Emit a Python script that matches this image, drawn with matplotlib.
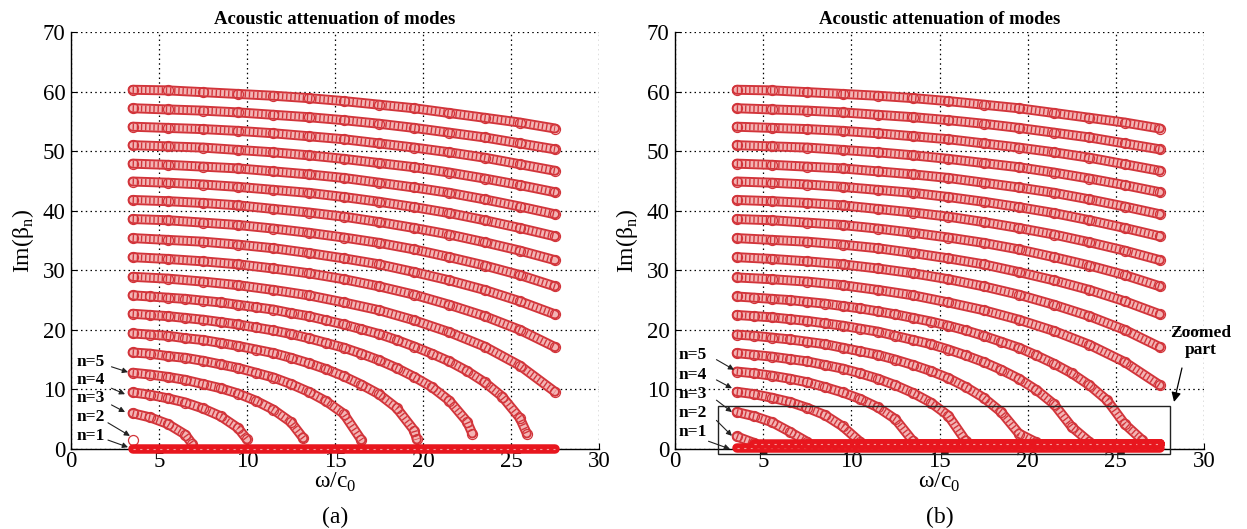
"""Acoustic attenuation of duct modes, panels (a) and (b)."""
import numpy as np
import matplotlib
matplotlib.use('Agg')
import matplotlib.pyplot as plt
from matplotlib.patches import Rectangle


plt.rcParams['font.family'] = ['Liberation Serif', 'DejaVu Serif']
plt.rcParams['mathtext.fontset'] = 'custom'
plt.rcParams['mathtext.rm'] = 'Liberation Serif'

# frequency grids (omega / c0) the values were read on
OMEGA_COARSE = [3.5, 5.5, 7.5, 9.5, 11.5, 13.5, 15.5, 17.5, 19.5, 21.5,
                23.5, 25.5, 27.5]
OMEGA_FINE = [3.5, 4.5, 5.5, 6.5, 7.5, 8.5, 9.5, 10.5, 11.5, 12.5, 13.5,
              14.5, 15.5, 16.5, 17.5, 18.5, 19.5, 20.5, 21.5, 22.5, 23.5,
              24.5, 25.5, 26.5, 27.5]

# high order modes, same in both panels (coarse grid)
IM_N20 = [60.3, 60.2, 59.9, 59.6, 59.3, 58.9, 58.4, 57.8, 57.2, 56.4, 55.6, 54.8, 53.8]
IM_N19 = [57.2, 57.0, 56.8, 56.5, 56.1, 55.7, 55.2, 54.6, 53.9, 53.1, 52.3, 51.3, 50.3]
IM_N18 = [54.1, 53.9, 53.7, 53.4, 53.0, 52.5, 52.0, 51.3, 50.6, 49.8, 48.9, 47.8, 46.7]
IM_N17 = [51.0, 50.8, 50.6, 50.2, 49.8, 49.3, 48.7, 48.0, 47.3, 46.4, 45.4, 44.3, 43.1]
IM_N16 = [47.9, 47.7, 47.4, 47.1, 46.6, 46.1, 45.5, 44.7, 43.9, 43.0, 41.9, 40.7, 39.4]
IM_N15 = [44.9, 44.7, 44.4, 44.0, 43.5, 43.0, 42.3, 41.5, 40.6, 39.6, 38.4, 37.1, 35.7]
IM_N14 = [41.8, 41.6, 41.3, 40.9, 40.3, 39.7, 39.0, 38.1, 37.1, 36.0, 34.7, 33.3, 31.7]
IM_N13 = [38.6, 38.4, 38.0, 37.6, 37.0, 36.3, 35.5, 34.6, 33.5, 32.2, 30.8, 29.2, 27.3]
IM_N12 = [35.4, 35.1, 34.8, 34.3, 33.7, 32.9, 32.0, 31.0, 29.7, 28.3, 26.7, 24.8, 22.6]
IM_N11 = [32.2, 31.9, 31.5, 31.0, 30.3, 29.5, 28.5, 27.3, 25.9, 24.2, 22.3, 20.0, 17.1]
HIGH_MODES = [IM_N11, IM_N12, IM_N13, IM_N14, IM_N15,
              IM_N16, IM_N17, IM_N18, IM_N19, IM_N20]

# panel (a): lossless, modes cut off sharply
A_N10 = [28.9, 28.6, 28.1, 27.5, 26.7, 25.8, 24.6, 23.3, 21.6, 19.6, 17.2, 14.0, 9.6]
A_N9 = [25.8, 25.6, 25.4, 25.2, 24.9, 24.6, 24.2, 23.8, 23.4, 22.8, 22.3, 21.6,
        20.9, 20.1, 19.3, 18.3, 17.2, 16.0, 14.7, 13.1, 11.2, 8.8, 5.2]
A_N8 = [22.7, 22.5, 22.3, 22.0, 21.7, 21.3, 20.9, 20.4, 19.9, 19.3, 18.6, 17.8,
        17.0, 16.0, 14.9, 13.6, 12.1, 10.4, 8.1, 4.6]
A_N7 = [19.4, 19.2, 19.0, 18.6, 18.3, 17.8, 17.3, 16.7, 16.1, 15.3, 14.4, 13.4,
        12.2, 10.8, 9.2, 6.9, 3.1]
A_N6 = [16.2, 16.0, 15.6, 15.3, 14.8, 14.2, 13.6, 12.8, 12.0, 10.9, 9.6, 8.0, 5.9]
A_N5 = [12.8, 12.5, 12.1, 11.6, 10.9, 10.2, 9.3, 8.1, 6.6, 4.5]
A_N4 = [9.5, 9.1, 8.5, 7.8, 6.8, 5.5, 3.5]
A_N3 = [6.0, 5.3, 4.2, 2.4]
A_N2 = [1.5]
A_LOW = [A_N2, A_N3, A_N4, A_N5, A_N6, A_N7, A_N8, A_N9]
A_END_X = [np.nan, 6.9, 10.0, 13.2, 16.5, 19.65, 22.8, 25.9]
A_END_Y = [np.nan, 0.8, 1.6, 1.8, 1.5, 1.6, 2.6, 2.6]
A_N1_X = [3.5, 27.5]
A_N1_Y = [0.0, 0.0]

# panel (b): modes level off near cut-off instead of dropping to zero
B_N10 = [28.8, 28.5, 28.1, 27.5, 26.7, 25.8, 24.6, 23.3, 21.7, 19.8, 17.5, 14.6, 10.7]
B_N9 = [25.6, 25.4, 25.2, 25.0, 24.7, 24.4, 24.0, 23.6, 23.1, 22.6, 22.0, 21.4,
        20.7, 19.9, 19.0, 18.0, 17.0, 15.7, 14.3, 12.7, 10.7, 8.2, 4.2, 1.5]
B_N8 = [22.5, 22.3, 22.1, 21.8, 21.5, 21.1, 20.7, 20.2, 19.7, 19.0, 18.3, 17.6,
        16.7, 15.7, 14.6, 13.3, 11.8, 9.9, 7.5, 3.7, 1.2]
B_N7 = [19.2, 19.0, 18.7, 18.4, 18.0, 17.6, 17.0, 16.4, 15.8, 15.0, 14.1, 13.1,
        11.9, 10.4, 8.6, 6.2, 2.6, 1.1]
B_N6 = [16.1, 15.8, 15.5, 15.1, 14.7, 14.1, 13.5, 12.7, 11.8, 10.7, 9.4, 7.8, 5.6, 1.3]
B_N5 = [13.0, 12.7, 12.3, 11.8, 11.2, 10.4, 9.5, 8.4, 7.0, 5.0, 1.3]
B_N4 = [9.6, 9.2, 8.6, 7.9, 6.9, 5.7, 3.8, 1.2]
B_N3 = [6.2, 5.5, 4.5, 2.9, 1.2]
B_N2 = [2.1, 1.0]
B_LOW = [B_N2, B_N3, B_N4, B_N5, B_N6, B_N7, B_N8, B_N9]
B_TAIL = 0.8
B_N1_X = [3.5, 27.5]
B_N1_Y = [0.1, 0.1]

MODE_LABELS = ['n=5', 'n=4', 'n=3', 'n=2', 'n=1']

EDGE = '#d2343a'
FILL = '#f3b4b4'
BAND = '#e8161e'
PX = 72 / 100  # points per pixel


def ribbon(ax, x, y, z=3):
    """Dense circle markers look like a hollow red tube."""
    if len(x) > 1:
        ax.plot(x, y, color=EDGE, lw=10 * PX, solid_capstyle='round', zorder=z)
        ax.plot(x, y, color=FILL, lw=6.2 * PX, solid_capstyle='round', zorder=z)
        ax.plot(x, y, color=EDGE, lw=6.2 * PX, dashes=(0.22, 0.45), zorder=z)
    ax.plot(x, y, 'o', mfc='none', mec=EDGE, ms=10 * PX, mew=0.9, zorder=z)


def band(ax, x, y, z=4):
    ax.plot(x, y, color=BAND, lw=9.5 * PX, solid_capstyle='round',
            clip_on=False, zorder=z)
    ax.plot(x, y, color='#f59a9a', lw=0.8, dashes=(2, 4), clip_on=False,
            zorder=z)


def style(ax, letter):
    ax.set_xlim(0, 30)
    ax.set_ylim(0, 70)
    ax.set_xticks(range(0, 31, 5))
    ax.set_yticks(range(0, 71, 10))
    ax.grid(True, color='k', lw=0.9, ls=(0, (1.2, 2.6)))
    ax.set_axisbelow(False)
    for side in ('top', 'right'):
        ax.spines[side].set_visible(False)
    for side in ('left', 'bottom'):
        ax.spines[side].set_linewidth(1.0)
    ax.tick_params(direction='in', length=4, labelsize=16.5)
    ax.tick_params(axis='x', pad=1.5)
    ax.tick_params(axis='y', pad=4)
    ax.set_title('Acoustic attenuation of modes', fontsize=13.5,
                 fontweight='bold', pad=6)
    ax.set_ylabel('Im(β$_\\mathregular{n}$)', fontsize=17)
    ax.yaxis.set_label_coords(-0.066, 0.5)
    ax.set_xlabel('ω/c$_\\mathregular{0}$', fontsize=17)
    ax.xaxis.set_label_coords(0.5, -0.052)
    ax.text(0.5, -0.164, letter, transform=ax.transAxes, fontsize=17,
            ha='center', va='center')


def labels(ax, text_x, text_y, tails, tips):
    for lab, ty, tail, tip in zip(MODE_LABELS, text_y, tails, tips):
        ax.text(text_x, ty, lab, fontsize=12.5, fontweight='bold',
                ha='left', va='center', zorder=6)
        ax.annotate('', xy=tip, xytext=tail, zorder=6,
                    arrowprops=dict(arrowstyle='-|>', color='#222222',
                                    lw=0.8, mutation_scale=8,
                                    shrinkA=0, shrinkB=0))


def panel_a(ax):
    for vals in HIGH_MODES + [A_N10]:
        ribbon(ax, OMEGA_COARSE, vals)
    for vals, ex, ey in zip(A_LOW, A_END_X, A_END_Y):
        x = list(OMEGA_FINE[:len(vals)])
        y = list(vals)
        if not np.isnan(ex):
            x.append(ex)
            y.append(ey)
        ribbon(ax, x, y)
    band(ax, A_N1_X, A_N1_Y)
    style(ax, '(a)')
    labels(ax, 0.3, [14.6, 11.6, 8.6, 5.4, 2.2],
           [(2.3, 13.8), (2.3, 10.2), (2.3, 7.4), (2.1, 4.4), (2.1, 1.5)],
           [(3.24, 12.9), (3.07, 9.2), (3.07, 6.2), (3.35, 2.2), (3.24, 0.3)])


def panel_b(ax):
    for vals in HIGH_MODES + [B_N10]:
        ribbon(ax, OMEGA_COARSE, vals)
    band(ax, B_N1_X, B_N1_Y)
    for vals in B_LOW:
        x = OMEGA_FINE[:len(vals)]
        ribbon(ax, x, vals)
        band(ax, [x[-1], OMEGA_FINE[-1]], [B_TAIL, B_TAIL])
    style(ax, '(b)')
    labels(ax, 0.2, [15.8, 12.4, 9.3, 6.1, 2.9],
           [(2.35, 15.0), (2.35, 11.6), (2.35, 8.2), (2.35, 4.8), (1.9, 1.3)],
           [(3.35, 13.3), (3.23, 10.2), (3.23, 6.2), (3.23, 2.2), (3.12, 0.0)])
    ax.add_patch(Rectangle((2.45, -0.9), 28.1 - 2.45, 7.3 + 0.9, fill=False,
                           ec='#222222', lw=1.0, clip_on=False, zorder=5))
    ax.text(29.8, 18.0, 'Zoomed\npart', fontsize=12.5, fontweight='bold',
            ha='center', va='center', multialignment='center',
            linespacing=1.1, clip_on=False)
    ax.annotate('', xy=(28.3, 7.9), xytext=(28.75, 13.6),
                arrowprops=dict(arrowstyle='-|>', color='k', lw=0.9,
                                mutation_scale=14, shrinkA=0, shrinkB=0),
                annotation_clip=False)


def main():
    fig = plt.figure(figsize=(12.47, 5.29), dpi=100)
    ax_a = fig.add_axes([71 / 1247, 80 / 529, 528 / 1247, 417 / 529])
    ax_b = fig.add_axes([675 / 1247, 80 / 529, 529 / 1247, 417 / 529])
    panel_a(ax_a)
    panel_b(ax_b)
    fig.savefig('out.png', dpi=100)


if __name__ == '__main__':
    main()
